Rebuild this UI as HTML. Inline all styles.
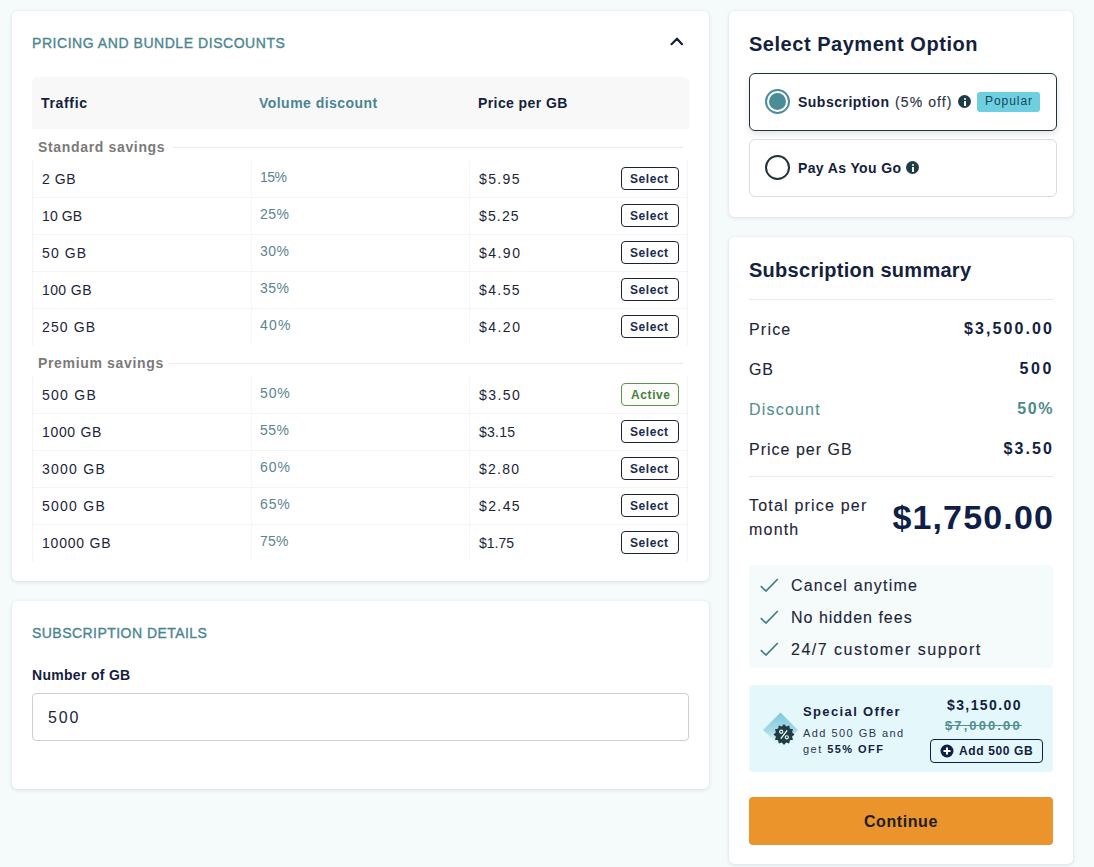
<!DOCTYPE html>
<html><head><meta charset="utf-8">
<style>
*{margin:0;padding:0;box-sizing:border-box}
html,body{width:1094px;height:867px;overflow:hidden;background:#f5fafb;font-family:"Liberation Sans",sans-serif;color:#14213d}
.card{position:absolute;background:#fff;border-radius:5px;box-shadow:0 1px 4px rgba(20,40,50,.10),0 0 1px rgba(20,40,50,.14)}
.abs{position:absolute;white-space:nowrap;line-height:1}
.sec{font-size:14px;color:#4a8691;-webkit-text-stroke:0.35px #4a8691}
.th{font-size:14px;font-weight:bold;color:#14213d}
.grp{font-size:14px;font-weight:bold;color:#7a7a7a;letter-spacing:0.66px}
.cell{font-size:14px;color:#1c2538}
.price{font-size:14px;color:#1c2538}
.pct{font-size:14px;color:#5b8490}
.rowbox{border-left:1px solid #f4f4f4;border-bottom:1px solid #f4f4f4;border-right:1px solid #f4f4f4}
.rowbox.last{border-bottom:none}
.vline{width:1px;background:#f6f6f6}
.lbl-line{height:1px;background:#ececec}
.btn{position:absolute;left:621px;width:58px;height:23px;border:1.5px solid #1a2335;border-radius:4px;font-size:12px;font-weight:bold;color:#1a2b4c;line-height:1;background:#fff}
.btn span{position:absolute;left:8px;top:5px;letter-spacing:0.55px}
.btn.active{border:1px solid #5f9150;color:#4b7d3c;background:#fcfdfb}
.btn.active span{left:9px;top:5px;letter-spacing:0.6px}
.sum{font-size:16px;color:#1c2538;letter-spacing:1.2px;-webkit-text-stroke:0.1px currentColor}
.val{font-size:16px;font-weight:bold;color:#14213d}
.info{position:absolute;width:13px;height:13px;border-radius:50%;background:#1e3d45}
.info:before{content:"";position:absolute;left:5.5px;top:2.5px;width:2px;height:2px;background:#fff;border-radius:1px}
.info:after{content:"";position:absolute;left:5.5px;top:5.5px;width:2px;height:5px;background:#fff}
</style></head><body>

<!-- Left card 1 -->
<div class="card" style="left:12px;top:11px;width:697px;height:570px"></div>
<div class="abs sec" style="left:32px;top:36px;letter-spacing:0.55px">PRICING AND BUNDLE DISCOUNTS</div>
<svg class="abs" style="left:668px;top:34px" width="18" height="14" viewBox="0 0 18 14"><path d="M3.5 10.2 L9 4.7 L14 10.2" fill="none" stroke="#14213d" stroke-width="2.2" stroke-linecap="round" stroke-linejoin="round"/></svg>

<div class="abs" style="left:32px;top:77px;width:657px;height:52px;background:#f8f8f8;border-radius:6px 6px 0 0"></div>
<div class="abs th" style="left:41px;top:96px;letter-spacing:0.67px">Traffic</div>
<div class="abs th" style="left:259px;top:96px;color:#4a8691;letter-spacing:0.46px">Volume discount</div>
<div class="abs th" style="left:478px;top:96px;letter-spacing:0.41px">Price per GB</div>

<div class="abs grp" style="left:38px;top:140px">Standard savings</div>
<div class="abs lbl-line" style="left:172px;top:147px;width:511px"></div>
<div class="abs rowbox" style="left:32px;top:161px;width:656px;height:37px"></div>
<div class="abs vline" style="left:251px;top:161px;height:37px"></div>
<div class="abs vline" style="left:469px;top:161px;height:37px"></div>
<div class="abs cell" style="left:42px;top:172px;letter-spacing:0.53px">2 GB</div>
<div class="abs pct" style="left:260px;top:170px;letter-spacing:-0.5px">15%</div>
<div class="abs price" style="left:479px;top:172px;letter-spacing:1.35px">$5.95</div>
<div class="btn" style="top:167px"><span>Select</span></div>
<div class="abs rowbox" style="left:32px;top:198px;width:656px;height:37px"></div>
<div class="abs vline" style="left:251px;top:198px;height:37px"></div>
<div class="abs vline" style="left:469px;top:198px;height:37px"></div>
<div class="abs cell" style="left:42px;top:209px;letter-spacing:0.12px">10 GB</div>
<div class="abs pct" style="left:260px;top:207px;letter-spacing:0.5px">25%</div>
<div class="abs price" style="left:479px;top:209px;letter-spacing:1.15px">$5.25</div>
<div class="btn" style="top:204px"><span>Select</span></div>
<div class="abs rowbox" style="left:32px;top:235px;width:656px;height:37px"></div>
<div class="abs vline" style="left:251px;top:235px;height:37px"></div>
<div class="abs vline" style="left:469px;top:235px;height:37px"></div>
<div class="abs cell" style="left:42px;top:246px;letter-spacing:1.12px">50 GB</div>
<div class="abs pct" style="left:260px;top:244px;letter-spacing:0.5px">30%</div>
<div class="abs price" style="left:479px;top:246px;letter-spacing:1.47px">$4.90</div>
<div class="btn" style="top:241px"><span>Select</span></div>
<div class="abs rowbox" style="left:32px;top:272px;width:656px;height:37px"></div>
<div class="abs vline" style="left:251px;top:272px;height:37px"></div>
<div class="abs vline" style="left:469px;top:272px;height:37px"></div>
<div class="abs cell" style="left:42px;top:283px;letter-spacing:0.4px">100 GB</div>
<div class="abs pct" style="left:260px;top:281px;letter-spacing:0.5px">35%</div>
<div class="abs price" style="left:479px;top:283px;letter-spacing:1.4px">$4.55</div>
<div class="btn" style="top:278px"><span>Select</span></div>
<div class="abs rowbox last" style="left:32px;top:309px;width:656px;height:37px"></div>
<div class="abs vline" style="left:251px;top:309px;height:36px"></div>
<div class="abs vline" style="left:469px;top:309px;height:36px"></div>
<div class="abs cell" style="left:42px;top:320px;letter-spacing:1.14px">250 GB</div>
<div class="abs pct" style="left:260px;top:318px;letter-spacing:1.2px">40%</div>
<div class="abs price" style="left:479px;top:320px;letter-spacing:1.47px">$4.20</div>
<div class="btn" style="top:315px"><span>Select</span></div>
<div class="abs grp" style="left:38px;top:356px">Premium savings</div>
<div class="abs lbl-line" style="left:168px;top:363px;width:515px"></div>
<div class="abs rowbox" style="left:32px;top:377px;width:656px;height:37px"></div>
<div class="abs vline" style="left:251px;top:377px;height:37px"></div>
<div class="abs vline" style="left:469px;top:377px;height:37px"></div>
<div class="abs cell" style="left:42px;top:388px;letter-spacing:1.26px">500 GB</div>
<div class="abs pct" style="left:260px;top:386px;letter-spacing:0.85px">50%</div>
<div class="abs price" style="left:479px;top:388px;letter-spacing:1.43px">$3.50</div>
<div class="btn active" style="top:383px"><span>Active</span></div>
<div class="abs rowbox" style="left:32px;top:414px;width:656px;height:37px"></div>
<div class="abs vline" style="left:251px;top:414px;height:37px"></div>
<div class="abs vline" style="left:469px;top:414px;height:37px"></div>
<div class="abs cell" style="left:42px;top:425px;letter-spacing:0.67px">1000 GB</div>
<div class="abs pct" style="left:260px;top:423px;letter-spacing:0.5px">55%</div>
<div class="abs price" style="left:479px;top:425px;letter-spacing:0.25px">$3.15</div>
<div class="btn" style="top:420px"><span>Select</span></div>
<div class="abs rowbox" style="left:32px;top:451px;width:656px;height:37px"></div>
<div class="abs vline" style="left:251px;top:451px;height:37px"></div>
<div class="abs vline" style="left:469px;top:451px;height:37px"></div>
<div class="abs cell" style="left:42px;top:462px;letter-spacing:1.25px">3000 GB</div>
<div class="abs pct" style="left:260px;top:460px;letter-spacing:1.0px">60%</div>
<div class="abs price" style="left:479px;top:462px;letter-spacing:1.25px">$2.80</div>
<div class="btn" style="top:457px"><span>Select</span></div>
<div class="abs rowbox" style="left:32px;top:488px;width:656px;height:37px"></div>
<div class="abs vline" style="left:251px;top:488px;height:37px"></div>
<div class="abs vline" style="left:469px;top:488px;height:37px"></div>
<div class="abs cell" style="left:42px;top:499px;letter-spacing:1.25px">5000 GB</div>
<div class="abs pct" style="left:260px;top:497px;letter-spacing:0.85px">65%</div>
<div class="abs price" style="left:479px;top:499px;letter-spacing:1.4px">$2.45</div>
<div class="btn" style="top:494px"><span>Select</span></div>
<div class="abs rowbox last" style="left:32px;top:525px;width:656px;height:37px"></div>
<div class="abs vline" style="left:251px;top:525px;height:36px"></div>
<div class="abs vline" style="left:469px;top:525px;height:36px"></div>
<div class="abs cell" style="left:42px;top:536px;letter-spacing:0.79px">10000 GB</div>
<div class="abs pct" style="left:260px;top:534px;letter-spacing:0.2px">75%</div>
<div class="abs price" style="left:479px;top:536px;letter-spacing:0.0px">$1.75</div>
<div class="btn" style="top:531px"><span>Select</span></div>

<!-- Left card 2 -->
<div class="card" style="left:12px;top:601px;width:697px;height:188px"></div>
<div class="abs sec" style="left:32px;top:626px;letter-spacing:0.46px">SUBSCRIPTION DETAILS</div>
<div class="abs th" style="left:32px;top:668px;letter-spacing:0.3px">Number of GB</div>
<div class="abs" style="left:32px;top:693px;width:657px;height:48px;border:1px solid #cfcfcf;border-radius:4px;background:#fff"></div>
<div class="abs" style="left:48px;top:710px;font-size:16px;color:#1c2538;letter-spacing:1.9px">500</div>

<!-- Right card 1 -->
<div class="card" style="left:729px;top:11px;width:344px;height:206px"></div>
<div class="abs" style="left:749px;top:34px;font-size:20px;font-weight:bold;color:#14213d;letter-spacing:0.53px">Select Payment Option</div>
<div class="abs" style="left:749px;top:73px;width:308px;height:58px;border:1.5px solid #1f3338;border-radius:6px;box-shadow:0 3px 6px rgba(30,60,70,.14)"></div>
<div class="abs" style="left:765px;top:89px;width:25px;height:25px;border:2.5px solid #4a8d99;border-radius:50%;background:#fff"></div>
<div class="abs" style="left:769px;top:93px;width:17px;height:17px;border-radius:50%;background:#4a8d99"></div>
<div class="abs" style="left:798px;top:95px;font-size:14px;font-weight:bold;color:#14213d;letter-spacing:0.49px">Subscription</div>
<div class="abs" style="left:895px;top:95px;font-size:14px;color:#2a3344;letter-spacing:1.1px;-webkit-text-stroke:0.15px currentColor">(5% off)</div>
<div class="info" style="left:958px;top:95px"></div>
<div class="abs" style="left:977px;top:92px;width:63px;height:20px;background:#6dcfe0;border-radius:3px"></div>
<div class="abs" style="left:985px;top:95px;font-size:12px;color:#124758;letter-spacing:0.95px">Popular</div>

<div class="abs" style="left:749px;top:139px;width:308px;height:58px;border:1px solid #dcdcdc;border-radius:6px"></div>
<div class="abs" style="left:765px;top:155px;width:25px;height:25px;border:2px solid #1f3338;border-radius:50%"></div>
<div class="abs" style="left:798px;top:161px;font-size:14px;font-weight:bold;color:#14213d;letter-spacing:0.37px">Pay As You Go</div>
<div class="info" style="left:906px;top:161px"></div>

<!-- Right card 2 -->
<div class="card" style="left:729px;top:237px;width:344px;height:627px"></div>
<div class="abs" style="left:749px;top:260px;font-size:20px;font-weight:bold;color:#14213d;letter-spacing:0.28px">Subscription summary</div>
<div class="abs" style="left:749px;top:299px;width:304px;height:1px;background:#ebebeb"></div>

<div class="abs sum" style="left:749px;top:322px">Price</div>
<div class="abs val" style="right:40px;top:321px;letter-spacing:2.1px">$3,500.00</div>
<div class="abs sum" style="left:749px;top:362px;letter-spacing:0.7px">GB</div>
<div class="abs val" style="right:40px;top:361px;letter-spacing:2.6px">500</div>
<div class="abs sum" style="left:749px;top:402px;color:#558f8f">Discount</div>
<div class="abs val" style="right:40px;top:401px;color:#4f8a8a;letter-spacing:1.6px">50%</div>
<div class="abs sum" style="left:749px;top:442px;letter-spacing:1.0px">Price per GB</div>
<div class="abs val" style="right:40px;top:441px;letter-spacing:2.1px">$3.50</div>
<div class="abs" style="left:749px;top:476px;width:304px;height:1px;background:#ebebeb"></div>

<div class="abs sum" style="left:749px;top:494px;line-height:24px">Total price per<br>month</div>
<div class="abs" style="right:40px;top:500px;font-size:34px;font-weight:bold;color:#0f1f48;letter-spacing:1.15px">$1,750.00</div>

<div class="abs" style="left:749px;top:565px;width:304px;height:103px;background:#f5fafb;border-radius:4px"></div>
<svg class="abs" style="left:760px;top:578px" width="19" height="14" viewBox="0 0 19 14"><path d="M0.8 8.2 L6 13 L17.8 1" fill="none" stroke="#437c80" stroke-width="1.7"/></svg>
<div class="abs sum" style="left:791px;top:578px;letter-spacing:1.2px">Cancel anytime</div>
<svg class="abs" style="left:760px;top:610px" width="19" height="14" viewBox="0 0 19 14"><path d="M0.8 8.2 L6 13 L17.8 1" fill="none" stroke="#437c80" stroke-width="1.7"/></svg>
<div class="abs sum" style="left:791px;top:610px;letter-spacing:1.0px">No hidden fees</div>
<svg class="abs" style="left:760px;top:642px" width="19" height="14" viewBox="0 0 19 14"><path d="M0.8 8.2 L6 13 L17.8 1" fill="none" stroke="#437c80" stroke-width="1.7"/></svg>
<div class="abs sum" style="left:791px;top:642px;letter-spacing:1.5px">24/7 customer support</div>

<div class="abs" style="left:749px;top:685px;width:304px;height:87px;background:#e4f7fb;border-radius:4px"></div>
<svg class="abs" style="left:758px;top:708px" width="44" height="44" viewBox="0 0 44 44">
<defs><linearGradient id="dg" x1="0" y1="0" x2="0" y2="1"><stop offset="0" stop-color="#7cc9dc"/><stop offset="0.55" stop-color="#a9dbe8"/><stop offset="1" stop-color="#e4f7fb" stop-opacity="0"/></linearGradient></defs>
<path d="M22.5 4.5 L40 22 L22.5 39.5 L5 22 Z" fill="url(#dg)"/>
<g transform="translate(26 26.5)"><path fill="#1f3d45" d="M0.00 -10.50 L2.15 -8.02 L5.25 -9.09 L5.87 -5.87 L9.09 -5.25 L8.02 -2.15 L10.50 0.00 L8.02 2.15 L9.09 5.25 L5.87 5.87 L5.25 9.09 L2.15 8.02 L0.00 10.50 L-2.15 8.02 L-5.25 9.09 L-5.87 5.87 L-9.09 5.25 L-8.02 2.15 L-10.50 0.00 L-8.02 -2.15 L-9.09 -5.25 L-5.87 -5.87 L-5.25 -9.09 L-2.15 -8.02Z"/><circle cx="-2.8" cy="-2.8" r="1.6" fill="none" stroke="#fff" stroke-width="1.1"/><circle cx="2.8" cy="2.8" r="1.6" fill="none" stroke="#fff" stroke-width="1.1"/><path d="M3.2 -4.2 L-3.2 4.2" stroke="#fff" stroke-width="1.3"/></g>
</svg>
<div class="abs" style="left:803px;top:705px;font-size:13px;font-weight:bold;color:#14213d;letter-spacing:1.37px">Special Offer</div>
<div class="abs" style="left:803px;top:725px;font-size:11px;line-height:16px;color:#2a3550;letter-spacing:1.45px">Add 500 GB and<br>get <b style="color:#14213d">55% OFF</b></div>
<div class="abs" style="left:947px;top:698px;font-size:14px;font-weight:bold;color:#14213d;letter-spacing:1.4px">$3,150.00</div>
<div class="abs" style="left:945px;top:719px;font-size:13px;font-weight:bold;color:#528e90;text-decoration:line-through;letter-spacing:2.1px">$7,000.00</div>
<div class="abs" style="left:930px;top:739px;width:113px;height:24px;border:1.5px solid #14213d;border-radius:4px"></div>
<svg class="abs" style="left:940px;top:744px" width="14" height="14" viewBox="0 0 14 14"><circle cx="7" cy="7" r="6.5" fill="#0f2147"/><path d="M7 3.5V10.5M3.5 7H10.5" stroke="#fff" stroke-width="2"/></svg>
<div class="abs" style="left:959px;top:745px;font-size:12px;font-weight:bold;color:#14213d;letter-spacing:0.62px">Add 500 GB</div>

<div class="abs" style="left:749px;top:797px;width:304px;height:48px;background:#eb942c;border-radius:4px"></div>
<div class="abs" style="left:864px;top:814px;font-size:16px;font-weight:bold;color:#201e24;letter-spacing:0.57px">Continue</div>

</body></html>
